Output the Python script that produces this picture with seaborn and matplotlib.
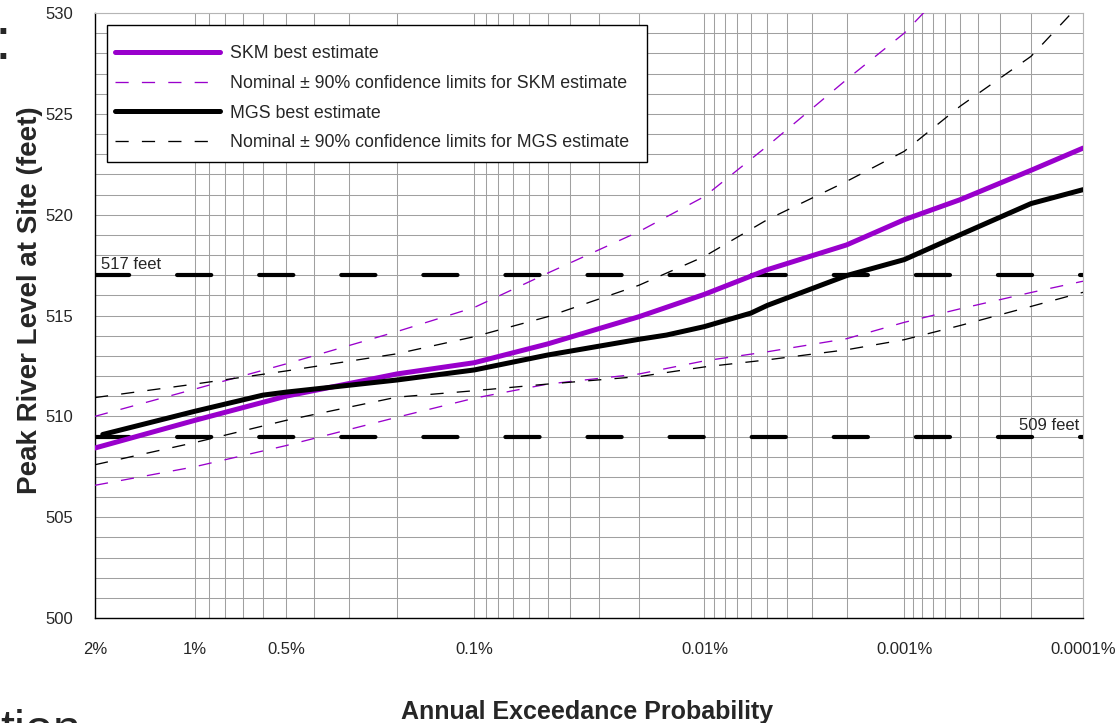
import numpy as np
import pandas as pd
import matplotlib
matplotlib.use("Agg")
import matplotlib.pyplot as plt
import seaborn as sns
from statistics import NormalDist
from matplotlib.ticker import FixedLocator, FixedFormatter, MultipleLocator, NullFormatter
from matplotlib.lines import Line2D
from matplotlib.patches import Rectangle

# Annual exceedance probabilities at which the SKM estimates are tabulated
aep = [0.02, 0.01, 0.005, 0.002, 0.001, 5e-4, 2e-4, 1e-4, 5e-5, 2e-5, 1e-5, 5e-6, 2e-6, 1e-6]

# SKM frequency curve and its nominal 90% confidence limits (feet)
skm_best = [508.43, 509.8, 511.0, 512.1, 512.66, 513.59, 514.94, 516.05, 517.27, 518.5, 519.75, 520.74, 522.2, 523.3]
skm_upper = [510.0, 511.35, 512.6, 514.2, 515.4, 517.1, 519.16, 520.9, 523.4, 526.7, 529.0, 531.9, 535.0, 537.5]
skm_lower = [506.58, 507.5, 508.55, 509.95, 510.9, 511.6, 512.1, 512.75, 513.2, 513.85, 514.66, 515.33, 516.14, 516.7]

# MGS frequency curve (own probability points) and confidence limits (on aep)
mgs_aep = [0.019, 0.01, 0.006, 0.005, 0.002, 0.001, 5e-4, 2e-4, 1.5e-4, 1e-4, 6e-5, 5e-5, 2e-5, 1e-5, 5e-6, 2e-6, 1e-6]
mgs_best = [509.1, 510.25, 511.05, 511.2, 511.8, 512.3, 513.04, 513.82, 514.03, 514.45, 515.12, 515.5, 516.98,
            517.77, 519.0, 520.55, 521.24]
mgs_upper = [510.93, 511.6, 512.25, 513.1, 513.95, 514.94, 516.5, 517.93, 519.75, 521.65, 523.14, 525.37, 527.85, 530.6]
mgs_lower = [507.6, 508.7, 509.8, 510.95, 511.27, 511.6, 511.97, 512.45, 512.8, 513.3, 513.8, 514.5, 515.45, 516.15]

# Reference river levels
ref_levels = [517, 509]
ref_labels = ["517 feet", "509 feet"]

# Probability-axis ticks
major_aep = [0.02, 0.01, 0.005, 0.001, 1e-4, 1e-5, 1e-6]
major_labels = ["2%", "1%", "0.5%", "0.1%", "0.01%", "0.001%", "0.0001%"]

legend_labels = ["SKM best estimate",
                 "Nominal \u00b1 90% confidence limits for SKM estimate",
                 "MGS best estimate",
                 "Nominal \u00b1 90% confidence limits for MGS estimate"]

PURPLE = "#9900CC"

sns.set_style("white")
plt.rcParams["font.family"] = ["Liberation Sans", "DejaVu Sans"]

# Normal probability paper: position along x is the standard normal quantile
_nd = NormalDist()
_ppf = np.vectorize(lambda p: _nd.inv_cdf(p), otypes=[float])
_cdf = np.vectorize(lambda z: _nd.cdf(z), otypes=[float])


def prob_forward(p):
    p = np.clip(np.asarray(p, dtype=float), 1e-15, 1 - 1e-15)
    return _ppf(p)


def prob_inverse(z):
    return _cdf(np.asarray(z, dtype=float))


W, H = 1120, 723
AX_L, AX_R, AX_T, AX_B = 95, 1083, 13, 618
AX_W, AX_H = AX_R - AX_L, AX_B - AX_T

fig = plt.figure(figsize=(W / 100, H / 100), dpi=100)
ax = fig.add_axes([AX_L / W, (H - AX_B) / H, AX_W / W, AX_H / H])

for lvl in ref_levels:
    ax.axhline(lvl, color="black", lw=3.0, linestyle=(0, (8.2, 11.5)),
               dash_capstyle="round", zorder=2)

thin_dash = (0, (10, 10))
sns.lineplot(x=aep, y=skm_best, ax=ax, color=PURPLE, lw=3.6, zorder=4, sort=False)
sns.lineplot(x=aep, y=skm_upper, ax=ax, color=PURPLE, lw=0.95, linestyle=thin_dash, zorder=3, sort=False)
sns.lineplot(x=aep, y=skm_lower, ax=ax, color=PURPLE, lw=0.95, linestyle=thin_dash, zorder=3, sort=False)
sns.lineplot(x=mgs_aep, y=mgs_best, ax=ax, color="black", lw=3.6, zorder=5, sort=False)
sns.lineplot(x=aep, y=mgs_upper, ax=ax, color="black", lw=0.95, linestyle=thin_dash, zorder=3, sort=False)
sns.lineplot(x=aep, y=mgs_lower, ax=ax, color="black", lw=0.95, linestyle=thin_dash, zorder=3, sort=False)

ax.set_xscale("function", functions=(prob_forward, prob_inverse))
ax.set_xlim(0.02, 1e-6)
ax.set_ylim(500, 530)

minor_aep = [k * 10.0 ** e for e in (-3, -4, -5, -6) for k in range(2, 10)
             if not np.isclose(k * 10.0 ** e, 0.005)]
ax.xaxis.set_major_locator(FixedLocator(major_aep))
ax.xaxis.set_major_formatter(FixedFormatter(major_labels))
ax.xaxis.set_minor_locator(FixedLocator(minor_aep))
ax.xaxis.set_minor_formatter(NullFormatter())
ax.yaxis.set_major_locator(MultipleLocator(5))
ax.yaxis.set_minor_locator(MultipleLocator(1))

ax.grid(True, which="both", axis="both", color="#a0a0a0", lw=0.75)
ax.set_axisbelow(True)

ax.tick_params(axis="x", which="both", direction="out", length=6.5, width=0.8,
               color="black", labelsize=12, pad=11)
ax.tick_params(axis="y", which="major", direction="out", length=7.5, width=0.8,
               color="black", labelsize=12, pad=8)
ax.tick_params(axis="y", which="minor", direction="out", length=3.8, width=0.8, color="black")

for side in ("left", "bottom"):
    ax.spines[side].set_color("black")
    ax.spines[side].set_linewidth(1.0)
for side in ("top", "right"):
    ax.spines[side].set_color("#b5b5b5")
    ax.spines[side].set_linewidth(0.8)

ax.set_xlabel("")
ax.set_ylabel("")
fig.text(30 / W, 1 - 300 / H, "Peak River Level at Site (feet)", rotation=90,
         ha="center", va="center", fontsize=20, fontweight="bold")
fig.text(587 / W, 1 - 712 / H, "Annual Exceedance Probability",
         ha="center", va="center", fontsize=18, fontweight="bold")

ytrans = ax.get_yaxis_transform()
ax.text(6 / AX_W, ref_levels[0] + 0.15, ref_labels[0], transform=ytrans,
        ha="left", va="bottom", fontsize=12, zorder=6)
ax.text(1 - 4 / AX_W, ref_levels[1] + 0.15, ref_labels[1], transform=ytrans,
        ha="right", va="bottom", fontsize=12, zorder=6)

# Legend: boxed panel with the key entries inside
box_l, box_r, box_t, box_b = 107, 647, 25, 162
ax.add_patch(Rectangle(((box_l - AX_L) / AX_W, (AX_B - box_b) / AX_H),
                       (box_r - box_l) / AX_W, (box_b - box_t) / AX_H,
                       transform=ax.transAxes, facecolor="white", edgecolor="black",
                       lw=1.0, zorder=9, clip_on=False))

handles = [
    Line2D([], [], color=PURPLE, lw=3.6, solid_capstyle="round"),
    Line2D([], [], color=PURPLE, lw=0.95, linestyle=thin_dash),
    Line2D([], [], color="black", lw=3.6, solid_capstyle="round"),
    Line2D([], [], color="black", lw=0.95, linestyle=thin_dash),
]
leg = ax.legend(handles, legend_labels, loc="upper left",
                bbox_to_anchor=((115 - AX_L) / AX_W, (AX_B - 45) / AX_H), borderaxespad=0,
                fontsize=12.8, handlelength=5.9, handletextpad=0.56,
                labelspacing=0.72, borderpad=0, frameon=False)
leg.set_zorder(10)

# Fragments of the surrounding page text
fig.text(-6 / W, 1 - 59 / H, ":", fontsize=43, ha="left", va="baseline")
fig.text(0, 1 - 745 / H, "tion", fontsize=36, ha="left", va="baseline")

fig.savefig("out.png", dpi=100)
